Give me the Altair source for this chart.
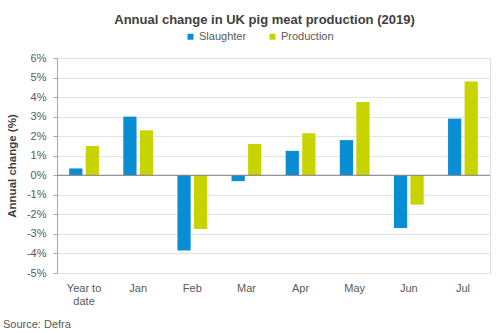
import altair as alt
import pandas as pd

categories = ["Year to date", "Jan", "Feb", "Mar", "Apr", "May", "Jun", "Jul"]
slaughter = [0.35, 3.0, -3.85, -0.3, 1.25, 1.8, -2.7, 2.9]
production = [1.5, 2.3, -2.75, 1.6, 2.15, 3.75, -1.5, 4.8]
series = ["Slaughter", "Production"]
colors = ["#0a8ed3", "#c8d400"]
tick_values = [-5, -4, -3, -2, -1, 0, 1, 2, 3, 4, 5, 6]

rows = []
for c, s, p in zip(categories, slaughter, production):
    rows.append({"cat": c, "series": "Slaughter", "value": s})
    rows.append({"cat": c, "series": "Production", "value": p})
df = pd.DataFrame(rows)

font = "Liberation Sans"

y_scale = alt.Scale(domain=[-5, 6], nice=False)
y_axis = alt.Axis(values=tick_values, labelExpr="datum.value + '%'",
                  labelOverlap=False, labelFlush=False,
                  labelFontSize=11, labelColor="#595959", labelFont=font,
                  titleFont=font, titleFontSize=11.5, titleColor="#404040",
                  titleFontWeight="bold", titlePadding=9,
                  gridColor="#e4e4e4", domainColor="#a6a6a6",
                  tickColor="#a6a6a6", tickSize=4, labelPadding=7)

bars = alt.Chart(df).mark_bar().encode(
    x=alt.X("cat:N", sort=categories, title=None,
            scale=alt.Scale(paddingInner=0.45, paddingOuter=0.225),
            axis=alt.Axis(labelAngle=0, domain=False, ticks=False, grid=False,
                          labelPadding=9, labelFontSize=11, labelColor="#595959",
                          labelFont=font, labelLineHeight=13,
                          labelExpr="datum.value == 'Year to date' ? ['Year to', 'date'] : datum.value")),
    xOffset=alt.XOffset("series:N", sort=series, scale=alt.Scale(paddingInner=0.2)),
    y=alt.Y("value:Q", title="Annual change (%)", scale=y_scale, axis=y_axis),
    color=alt.Color("series:N", sort=series,
                    scale=alt.Scale(domain=series, range=colors),
                    legend=alt.Legend(title=None, orient="none", direction="horizontal",
                                      legendX=128, legendY=-27, symbolType="square",
                                      symbolSize=36, labelFontSize=11, labelColor="#595959",
                                      labelFont=font, columnPadding=20, labelOffset=3,
                                      symbolStrokeWidth=0)),
)

zero = alt.Chart(pd.DataFrame({"z": [0]})).mark_rule(color="#7f7f7f", strokeWidth=1).encode(
    y=alt.Y("z:Q", title="Annual change (%)", scale=y_scale, axis=y_axis)
)

source = alt.Chart(pd.DataFrame({"t": ["Source: Defra"]})).mark_text(
    align="left", baseline="middle", fontSize=11, font=font, color="#595959"
).encode(text="t:N", x=alt.value(-54), y=alt.value(267))

chart = alt.layer(bars, zero, source).properties(
    width=433, height=215,
    title=alt.TitleParams("Annual change in UK pig meat production (2019)",
                          font=font, fontSize=13, fontWeight="bold", color="#404040",
                          anchor="middle", dx=-9, offset=4),
    autosize=alt.AutoSizeParams(type="none"),
    padding={"left": 57, "top": 58, "right": 10, "bottom": 60},
).configure_view(stroke=None).configure(background="white").configure_axis(labelOverlap=False)

chart.save("out.html", embed_options={"renderer": "svg", "actions": False})
